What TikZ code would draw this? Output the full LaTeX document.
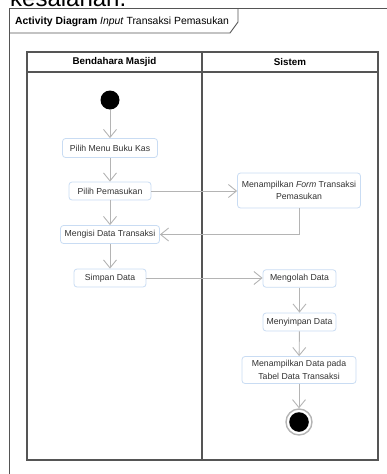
\documentclass[tikz,border=0pt]{standalone}
\usepackage{fontspec}
\setmainfont{Liberation Sans}
\usetikzlibrary{arrows.meta}
\definecolor{arrowgray}{HTML}{B4B4B4}
\definecolor{boxblue}{HTML}{C9DCF3}
\definecolor{txtgray}{HTML}{333333}
\definecolor{lanegray}{HTML}{555555}
\tikzset{
  act/.style={draw=boxblue, line width=0.8pt, rounded corners=3pt, fill=white,
    inner sep=0pt, align=center, font=\fontsize{8.7}{12.5}\selectfont, text=txtgray},
  flow/.style={draw=arrowgray, line width=0.9pt,
    -{Straight Barb[length=8pt,width=13pt,line width=0.9pt]}},
  lane/.style={draw=lanegray, line width=1.1pt},
  hdr/.style={font=\fontsize{9.8}{11}\selectfont\bfseries, text=black},
}
\begin{document}
\begin{tikzpicture}[x=1pt,y=-1pt]
\useasboundingbox (0,0) rectangle (387,474);
\clip (0,0) rectangle (387,474);
% partial text at top
\node[anchor=base west, inner sep=0pt, font=\fontsize{24}{24}\selectfont] (cut) at (10,6) {kesalahan.};
% frame
\draw[draw=lanegray, line width=1pt] (9,480) -- (9,8) -- (395,8);
\draw[draw=lanegray, line width=0.9pt] (9,33) -- (230,33) -- (238,22) -- (238,8);
\node[anchor=base west, inner sep=0pt, font=\fontsize{10.4}{11}\selectfont, text=black] (title) at (15,24.5)
  {\textbf{Activity Diagram} \textit{Input} Transaksi Pemasukan};
% swimlanes
\draw[lane] (27,52) rectangle (378,460);
\draw[lane] (27,72) -- (378,72);
\draw[lane] (202,52) -- (202,460);
\node[hdr] (h1) at (114.5,62) {Bendahara Masjid};
\node[hdr] (h2) at (290,62) {Sistem};
% nodes
\node[circle, fill=black, minimum size=19pt, inner sep=0pt] (start) at (110,100) {};
\node[act, minimum width=95pt, minimum height=19pt] (menu) at (110,148) {Pilih Menu Buku Kas};
\node[act, minimum width=82pt, minimum height=18pt] (pilih) at (110,191) {Pilih Pemasukan};
\node[act, minimum width=99pt, minimum height=18pt] (isi) at (110,234.5) {Mengisi Data Transaksi};
\node[act, minimum width=72pt, minimum height=18pt] (simpan) at (110,278) {Simpan Data};
\node[act, minimum width=123pt, minimum height=35pt] (form) at (299,190.5) {Menampilkan \textit{Form} Transaksi\\Pemasukan};
\node[act, minimum width=73pt, minimum height=17.5pt] (olah) at (299.5,278.5) {Mengolah Data};
\node[act, minimum width=73pt, minimum height=18pt] (nyimpan) at (299.5,322) {Menyimpan Data};
\node[act, minimum width=114pt, minimum height=27pt] (tampil) at (299,370) {Menampilkan Data pada\\Tabel Data Transaksi};
\node[circle, draw=arrowgray, line width=1.4pt, fill=white, minimum size=26pt, inner sep=0pt] (end) at (299,422) {};
\fill[black] (end.center) circle (9.8pt);
% flows
\draw[flow] (start) -- (menu);
\draw[flow] (menu) -- (pilih);
\draw[flow] (pilih) -- (isi);
\draw[flow] (isi) -- (simpan);
\draw[flow] (pilih.east) -- (form.west |- pilih.east);
\draw[flow] (form.south) |- (isi.east);
\draw[flow] (simpan.east) -- (olah.west |- simpan.east);
\draw[flow] (olah) -- (nyimpan);
\draw[flow] (nyimpan) -- (tampil);
\draw[flow] (tampil) -- (end);
\end{tikzpicture}
\end{document}
